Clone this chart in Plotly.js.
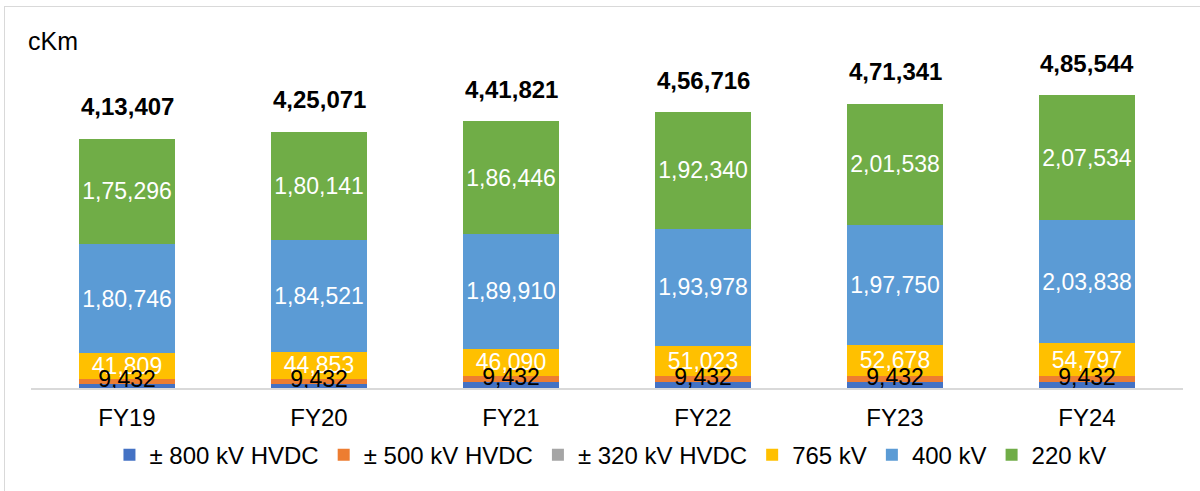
<!DOCTYPE html>
<html>
<head>
<meta charset="utf-8">
<script src="https://cdn.plot.ly/plotly-3.0.1.min.js"></script>
<style>
  html, body { margin: 0; padding: 0; background: #fff; }
  #wrap { position: relative; width: 1200px; height: 491px; }
  #chart { width: 1200px; height: 491px; }
  #frame { position: absolute; left: 4px; top: 6px; right: -2px; bottom: -2px;
           border-left: 1.5px solid #d9d9d9; border-top: 1.5px solid #d9d9d9; pointer-events: none; }
</style>
</head>
<body>
<div id="wrap">
  <div id="chart"></div>
  <div id="frame"></div>
</div>
<script>
const categories = ['FY19', 'FY20', 'FY21', 'FY22', 'FY23', 'FY24'];
const hvdc800 = [6124, 6124, 9655, 9655, 9655, 9655];
const hvdc500 = [9432, 9432, 9432, 9432, 9432, 9432];
const hvdc320 = [0, 0, 288, 288, 288, 288];
const kv765 = [41809, 44853, 46090, 51023, 52678, 54797];
const kv400 = [180746, 184521, 189910, 193978, 197750, 203838];
const kv220 = [175296, 180141, 186446, 192340, 201538, 207534];
const totals = [413407, 425071, 441821, 456716, 471341, 485544];

function inFmt(n) {
  const s = String(Math.round(n));
  if (s.length <= 3) return s;
  const last3 = s.slice(-3);
  const rest = s.slice(0, -3).replace(/\B(?=(\d{2})+(?!\d))/g, ',');
  return rest + ',' + last3;
}

const FONT = 'Liberation Sans, Arial, sans-serif';

function barTrace(name, values, color, showText) {
  return {
    type: 'bar',
    name: name,
    x: categories,
    y: values,
    marker: { color: color, line: { width: 0 } },
    text: showText ? values.map(inFmt) : undefined,
    textposition: showText ? 'inside' : 'none',
    insidetextanchor: 'middle',
    constraintext: 'none',
    cliponaxis: false,
    textfont: { family: FONT, size: 23, color: '#ffffff' },
    hoverinfo: 'x+y+name'
  };
}

const data = [
  barTrace('± 800 kV HVDC', hvdc800, '#4472C4', false),
  barTrace('± 500 kV HVDC', hvdc500, '#ED7D31', false),
  barTrace('± 320 kV HVDC', hvdc320, '#A5A5A5', false),
  barTrace('765 kV', kv765, '#FFC000', true),
  barTrace('400 kV', kv400, '#5B9BD5', true),
  barTrace('220 kV', kv220, '#70AD47', true),
  {
    // data labels of the ± 500 kV HVDC segment, drawn above all bars
    type: 'scatter', mode: 'text', showlegend: false, hoverinfo: 'skip',
    x: categories,
    y: hvdc500.map((v, i) => hvdc800[i] + v / 2),
    text: hvdc500.map(inFmt),
    textposition: 'middle center',
    cliponaxis: false,
    textfont: { family: FONT, size: 23, color: '#000000' }
  }
];

const annotations = categories.map((c, i) => ({
  x: c, y: totals[i], xref: 'x', yref: 'y',
  text: '<b>' + inFmt(totals[i]) + '</b>',
  showarrow: false, yanchor: 'middle', yshift: 32,
  font: { family: FONT, size: 24, color: '#000000' }
}));
annotations.push({
  x: -0.004, y: 0.997, xref: 'paper', yref: 'paper',
  xanchor: 'left', yanchor: 'middle', showarrow: false,
  text: 'cKm', font: { family: FONT, size: 25, color: '#000000' }
});

const layout = {
  width: 1200, height: 491,
  margin: { l: 31, r: 17, t: 40, b: 103 },
  paper_bgcolor: '#ffffff', plot_bgcolor: '#ffffff',
  barmode: 'stack',
  bargap: 0.5,
  font: { family: FONT, color: '#000000' },
  xaxis: {
    type: 'category',
    showline: true, linecolor: '#d9d9d9', linewidth: 1.5,
    ticks: '', showgrid: false, zeroline: false,
    tickfont: { family: FONT, size: 24, color: '#000000' },
    ticklabelstandoff: 8
  },
  yaxis: {
    range: [0, 576850], visible: false, showgrid: false, zeroline: false
  },
  showlegend: true,
  legend: {
    orientation: 'h', x: 0.503, xanchor: 'center', y: -0.128, yanchor: 'top',
    font: { family: FONT, size: 24, color: '#000000' },
    traceorder: 'normal'
  },
  annotations: annotations
};

Plotly.newPlot('chart', data, layout, { displayModeBar: false, staticPlot: true });
</script>
</body>
</html>
